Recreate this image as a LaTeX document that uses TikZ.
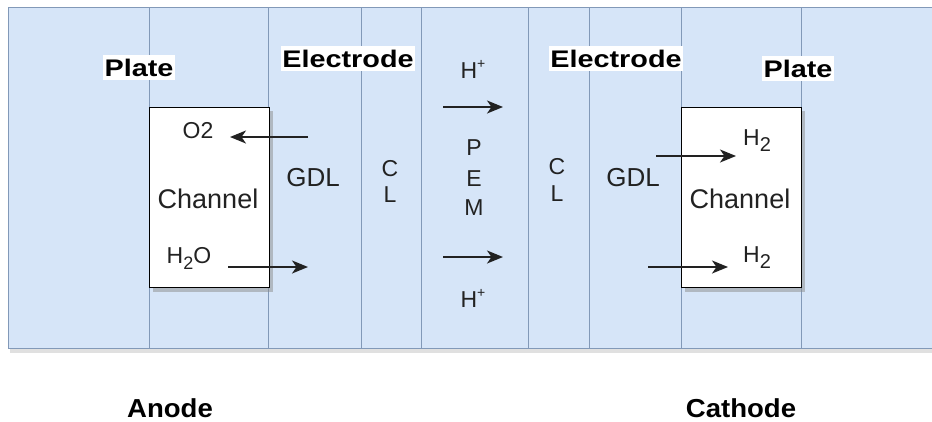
\documentclass[tikz,border=0pt]{standalone}
\usepackage{fontspec}
\setmainfont{Liberation Sans}
\usetikzlibrary{arrows.meta}
\definecolor{lblue}{HTML}{D6E5F8}
\definecolor{lline}{HTML}{8299B8}
\definecolor{ink}{HTML}{222222}
\tikzset{
  col/.style={fill=lblue, draw=lline, line width=0.9pt},
  chan/.style={fill=white, draw=black, line width=1.4pt},
  shad/.style={fill=black!45, opacity=0.5, draw=none},
  lab/.style={font=\fontsize{26}{30}\selectfont, text=ink, inner sep=0pt},
  chl/.style={font=\fontsize{27}{30}\selectfont, text=ink, inner sep=0pt},
  sml/.style={font=\fontsize{23}{28}\selectfont, text=ink, inner sep=0pt},
  hdr/.style={font=\bfseries\fontsize{24}{28}\selectfont, text=black, fill=white, inner xsep=1.5pt, inner ysep=4pt, xscale=1.2},
  foot/.style={font=\bfseries\fontsize{26}{30}\selectfont, text=black, inner sep=0pt, xscale=1.06},
  flow/.style={draw=ink, line width=2pt, -{Stealth[length=16pt,width=13pt,inset=4.5pt]}}
}
\begin{document}
\begin{tikzpicture}[x=1pt,y=-1pt]
\useasboundingbox (0,0) rectangle (932,421);
\clip (0,0) rectangle (932,421);
% background shadow
\fill[black!12] (10,348) rectangle (940,353);
% columns
\draw[col] (8,7) rectangle (149,348);
\draw[col] (149,7) rectangle (268,348);
\draw[col] (268,7) rectangle (361,348);
\draw[col] (361,7) rectangle (421,348);
\draw[col] (421,7) rectangle (528,348);
\draw[col] (528,7) rectangle (589,348);
\draw[col] (589,7) rectangle (681,348);
\draw[col] (681,7) rectangle (801,348);
\draw[col] (801,7) rectangle (940,348);
% channel boxes
\fill[shad] (153,111) rectangle (273,292);
\fill[shad] (685,111) rectangle (805,292);
\node[chan, minimum width=120pt, minimum height=180pt, inner sep=0pt, anchor=north west] (chL) at (149,107) {};
\node[chan, minimum width=120pt, minimum height=180pt, inner sep=0pt, anchor=north west] (chR) at (681,107) {};
% header labels
\node[hdr, anchor=base] (plateL) at (139,76) {Plate};
\node[hdr, anchor=base] (elecL) at (348,67) {Electrode};
\node[hdr, anchor=base] (elecR) at (616,67) {Electrode};
\node[hdr, anchor=base] (plateR) at (798,77) {Plate};
% texts
\node[sml, anchor=base] (hpT) at (473,78) {H\raisebox{0.42em}{\fontsize{14}{14}\selectfont +}};
\node[sml, anchor=base] (hpB) at (473,307) {H\raisebox{0.42em}{\fontsize{14}{14}\selectfont +}};
\node[sml, anchor=base] (o2) at (198,138) {O2};
\node[lab, anchor=base] (gdlL) at (313,186) {GDL};
\node[lab, anchor=base] (gdlR) at (633,186) {GDL};
\node[sml, anchor=base] (cL1) at (390,176) {C};
\node[sml, anchor=base] (cL2) at (390,202) {L};
\node[sml, anchor=base] (cR1) at (557,174) {C};
\node[sml, anchor=base] (cR2) at (557,201) {L};
\node[sml, anchor=base] (pemP) at (474,155) {P};
\node[sml, anchor=base] (pemE) at (474,186) {E};
\node[sml, anchor=base] (pemM) at (474,215) {M};
\node[chl, anchor=base] (chanL) at (208,208) {Channel};
\node[chl, anchor=base] (chanR) at (740,208) {Channel};
\node[sml, anchor=base] (h2o) at (189,263) {H\raisebox{-0.28em}{\fontsize{18}{18}\selectfont 2}O};
\node[sml, anchor=base west] (h2T) at (743,145) {H\raisebox{-0.3em}{\fontsize{20}{20}\selectfont 2}};
\node[sml, anchor=base west] (h2B) at (743,262) {H\raisebox{-0.3em}{\fontsize{20}{20}\selectfont 2}};
\node[foot, anchor=base] (anode) at (170,417) {Anode};
\node[foot, anchor=base] (cathode) at (741,417) {Cathode};
% arrow coordinates
\coordinate (a1s) at (308,137); \coordinate (a1e) at (230,137);
\coordinate (a2s) at (228,267); \coordinate (a2e) at (308,267);
\coordinate (a3s) at (443,107); \coordinate (a3e) at (503,107);
\coordinate (a4s) at (443,257); \coordinate (a4e) at (503,257);
\coordinate (a5s) at (656,156); \coordinate (a5e) at (736,156);
\coordinate (a6s) at (648,267); \coordinate (a6e) at (728,267);
\draw[flow] (a1s) -- (a1e);
\draw[flow] (a2s) -- (a2e);
\draw[flow] (a3s) -- (a3e);
\draw[flow] (a4s) -- (a4e);
\draw[flow] (a5s) -- (a5e);
\draw[flow] (a6s) -- (a6e);
\end{tikzpicture}
\end{document}
